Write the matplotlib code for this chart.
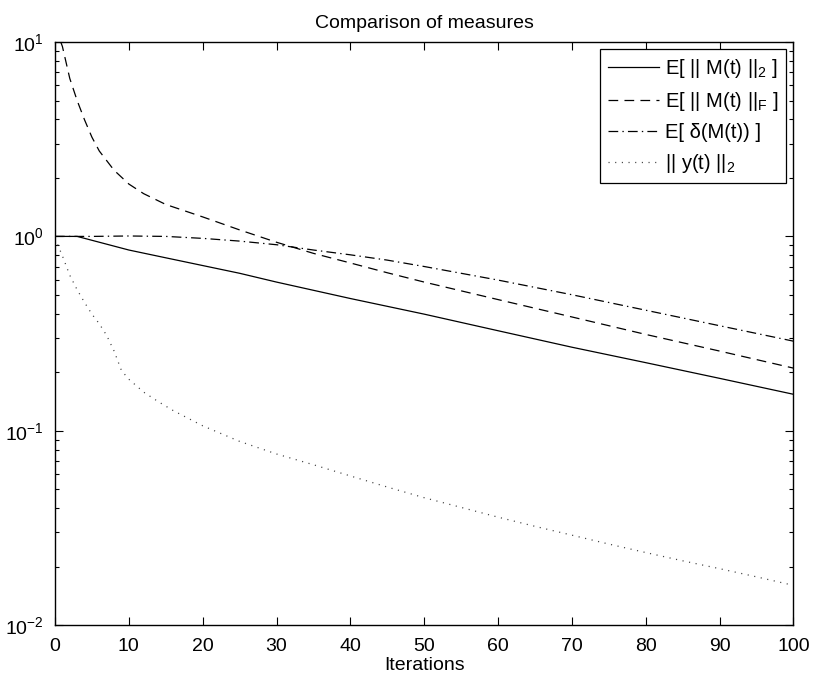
#!/usr/bin/env python3
# -*- coding: utf-8 -*-
"""
Decay of the different error measures over the iterations.
"""

import matplotlib
matplotlib.use("Agg")
import matplotlib.pyplot as plt
from matplotlib.ticker import LogLocator, NullFormatter

import numpy as np

# E[ ||M(t)||_2 ]
it_norm2 = [0, 3, 5, 10, 15, 20, 25, 30, 40, 50, 60, 70, 80, 90, 100]
norm2 = [1.0, 1.0, 0.955, 0.851, 0.776, 0.708, 0.646, 0.582, 0.479,
         0.398, 0.327, 0.269, 0.224, 0.186, 0.154]

# E[ ||M(t)||_F ]
it_fro = [0, 1, 2, 3, 4, 5, 6, 8, 10, 12, 15, 20, 25, 30, 35, 40, 45, 50,
          60, 70, 80, 90, 100]
fro = [12.0, 9.5, 6.5, 5.0, 3.98, 3.24, 2.75, 2.19, 1.86, 1.66, 1.46, 1.26,
       1.08, 0.933, 0.818, 0.730, 0.650, 0.582, 0.473, 0.385, 0.313, 0.257,
       0.210]

# E[ delta(M(t)) ]
it_delta = [0, 5, 10, 15, 20, 25, 30, 35, 40, 45, 50, 60, 70, 80, 90, 100]
delta = [1.0, 1.0, 1.005, 1.0, 0.977, 0.946, 0.906, 0.851, 0.804, 0.755,
         0.700, 0.596, 0.501, 0.417, 0.347, 0.289]

# || y(t) ||_2
it_y = [0, 1, 2, 3, 4, 5, 6, 7, 8, 9, 10, 12, 14, 16, 18, 20, 25, 30, 35,
        40, 45, 50, 55, 60, 65, 70, 75, 80, 85, 90, 95, 100]
ynorm = [0.977, 0.794, 0.631, 0.531, 0.457, 0.398, 0.355, 0.309, 0.257,
         0.204, 0.184, 0.158, 0.141, 0.127, 0.116, 0.106, 0.0881, 0.0759,
         0.0668, 0.0585, 0.0513, 0.0452, 0.0403, 0.0359, 0.0322, 0.0290,
         0.0261, 0.0236, 0.0214, 0.0195, 0.0177, 0.0160]

labels = [r"E[ || M(t) ||$_\mathrm{2}$ ]",
          r"E[ || M(t) ||$_\mathrm{F}$ ]",
          "E[ δ(M(t)) ]",
          r"|| y(t) ||$_\mathrm{2}$"]

plt.rcParams["font.family"] = ["Liberation Sans", "DejaVu Sans"]
plt.rcParams["mathtext.fontset"] = "custom"
plt.rcParams["mathtext.rm"] = "Liberation Sans"
plt.rcParams["mathtext.it"] = "Liberation Sans:italic"
plt.rcParams["lines.scale_dashes"] = False
plt.rcParams["font.size"] = 14


def plotting():
    fig = plt.figure(figsize=(8.15, 6.77), dpi=100)
    ax = fig.add_axes([0.0675, 0.0768, 0.906, 0.861])
    lw = 0.9
    ax.plot(it_norm2, norm2, c="k", lw=lw, ls="-", label=labels[0])
    ax.plot(it_fro, fro, c="k", lw=lw, ls=(0, (7, 4.5)), label=labels[1])
    ax.plot(it_delta, delta, c="k", lw=lw, ls=(0, (7, 3, 1, 3)),
            label=labels[2])
    ax.plot(it_y, ynorm, c="0.25", lw=lw, ls=(0, (0.8, 4)), label=labels[3])

    ax.set_yscale("log")
    ax.set_xlim(0, 100)
    ax.set_ylim(1e-2, 1e1)
    ax.set_xticks(np.arange(0, 101, 10))
    ax.yaxis.set_minor_locator(LogLocator(base=10, subs=np.arange(2, 10)))
    ax.yaxis.set_minor_formatter(NullFormatter())
    ax.tick_params(which="both", direction="in", top=True, right=True,
                   width=0.8, labelsize=14)
    ax.tick_params(which="major", length=5.5)
    ax.tick_params(which="minor", length=3)
    ax.tick_params(axis="x", pad=9)
    ax.tick_params(axis="y", pad=8)
    for sp in ax.spines.values():
        sp.set_linewidth(1.0)

    ax.set_xlabel("Iterations", labelpad=2)
    ax.set_title("Comparison of measures", fontsize=14, pad=10)

    leg = ax.legend(loc="upper right", fancybox=False, framealpha=1,
                    edgecolor="k", fontsize=14.5, handlelength=2.5,
                    handletextpad=0.3, labelspacing=0.5,
                    borderaxespad=0.35, borderpad=0.4)
    leg.get_frame().set_linewidth(0.9)

    fig.savefig("out.png", dpi=100)


if __name__ == "__main__":
    plotting()
